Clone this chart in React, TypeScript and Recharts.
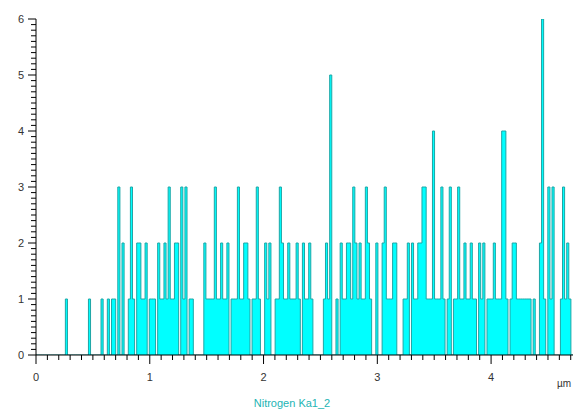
import { Area, AreaChart, XAxis, YAxis } from "recharts";

// line scan length along x (µm)
const SCAN_LENGTH_UM = 4.72;

// counts per scan point
const nitrogenCounts = [
  0, 0, 0, 0, 0, 0, 0, 0, 0, 0, 0, 0, 0, 0, 1, 0,
  0, 0, 0, 0, 0, 0, 0, 0, 0, 1, 0, 0, 0, 0, 0, 1,
  0, 0, 1, 0, 1, 1, 0, 3, 0, 2, 0, 0, 1, 3, 1, 0,
  2, 2, 1, 1, 2, 0, 1, 1, 1, 0, 2, 1, 1, 2, 1, 3,
  1, 1, 2, 2, 0, 3, 1, 3, 0, 1, 1, 0, 0, 0, 0, 0,
  2, 1, 1, 1, 1, 3, 1, 1, 2, 1, 1, 2, 0, 1, 1, 1,
  3, 1, 1, 2, 2, 1, 0, 1, 1, 3, 1, 0, 0, 2, 1, 2,
  0, 0, 1, 1, 3, 2, 1, 1, 2, 1, 1, 1, 2, 1, 0, 2,
  1, 1, 2, 1, 0, 0, 0, 0, 0, 1, 2, 1, 5, 0, 0, 1,
  0, 2, 1, 1, 2, 2, 1, 3, 2, 1, 2, 1, 1, 3, 2, 1,
  0, 0, 2, 0, 0, 2, 3, 1, 1, 1, 2, 2, 0, 0, 0, 1,
  1, 2, 0, 2, 1, 1, 2, 2, 3, 3, 1, 1, 1, 4, 1, 1,
  1, 3, 1, 0, 1, 3, 0, 1, 1, 3, 1, 1, 2, 1, 1, 2,
  1, 1, 0, 2, 1, 2, 0, 1, 1, 1, 2, 1, 1, 1, 4, 4,
  1, 0, 1, 2, 2, 1, 1, 1, 1, 1, 1, 1, 0, 1, 0, 0,
  2, 6, 1, 0, 3, 1, 3, 0, 0, 0, 1, 3, 1, 2, 1, 0,
];

const xLabels = [0, 1, 2, 3, 4];
const yLabels = [0, 1, 2, 3, 4, 5, 6];
// minor ticks every 0.1
const xTicks = Array.from({ length: 48 }, (_, i) => i / 10);
const yTicks = Array.from({ length: 61 }, (_, i) => i / 10);

const step = SCAN_LENGTH_UM / nitrogenCounts.length;
const profile = nitrogenCounts.map((count, i) => ({ x: i * step, count }));
profile.push({ x: SCAN_LENGTH_UM, count: 0 });

const FONT = "'Liberation Sans', Arial, sans-serif";
const isMajor = (v: number, labels: number[]) =>
  labels.some((l) => Math.abs(l - v) < 1e-6);

function XTick(props: any) {
  const { x, y, payload } = props;
  const major = isMajor(payload.value, xLabels);
  return (
    <g>
      <line x1={x} x2={x} y1={y} y2={y + (major ? 9 : 5)} stroke="#000" />
      {major && (
        <text
          x={x}
          y={y + 26}
          textAnchor="middle"
          fontSize={11}
          fontFamily={FONT}
          fill="#333"
        >
          {payload.value}
        </text>
      )}
    </g>
  );
}

function YTick(props: any) {
  const { x, y, payload } = props;
  const major = isMajor(payload.value, yLabels);
  return (
    <g>
      <line x1={x - (major ? 8 : 5)} x2={x} y1={y} y2={y} stroke="#000" />
      {major && (
        <text
          x={x - 12}
          y={y + 4}
          textAnchor="end"
          fontSize={11}
          fontFamily={FONT}
          fill="#333"
        >
          {payload.value}
        </text>
      )}
    </g>
  );
}

export default function App() {
  return (
    <div
      style={{
        position: "absolute",
        left: 0,
        top: 0,
        width: 583,
        height: 412,
        background: "#fff",
      }}
    >
      <AreaChart
        width={583}
        height={412}
        data={profile}
        margin={{ top: 19, right: 10, bottom: 0, left: 0 }}
      >
        <Area
          type="stepAfter"
          dataKey="count"
          stroke="#1ea6a6"
          strokeWidth={1}
          fill="#00ffff"
          fillOpacity={1}
          dot={false}
          activeDot={false}
          isAnimationActive={false}
        />
        <XAxis
          dataKey="x"
          type="number"
          domain={[0, SCAN_LENGTH_UM]}
          ticks={xTicks}
          interval={0}
          height={57}
          tickSize={0}
          tickMargin={0}
          tickLine={false}
          axisLine={{ stroke: "#000" }}
          tick={<XTick />}
          allowDataOverflow
        />
        <YAxis
          type="number"
          domain={[0, 6]}
          ticks={yTicks}
          interval={0}
          width={36}
          tickSize={0}
          tickMargin={0}
          tickLine={false}
          axisLine={{ stroke: "#000" }}
          tick={<YTick />}
          allowDataOverflow
        />
      </AreaChart>
      <svg
        width={583}
        height={412}
        style={{ position: "absolute", left: 0, top: 0, pointerEvents: "none" }}
      >
        <text x={564} y={387} textAnchor="middle" fontSize={10} fontFamily={FONT} fill="#333">
          µm
        </text>
        <text x={292} y={407} textAnchor="middle" fontSize={11} fontFamily={FONT} fill="#22b4b4">
          Nitrogen Ka1_2
        </text>
      </svg>
    </div>
  );
}
